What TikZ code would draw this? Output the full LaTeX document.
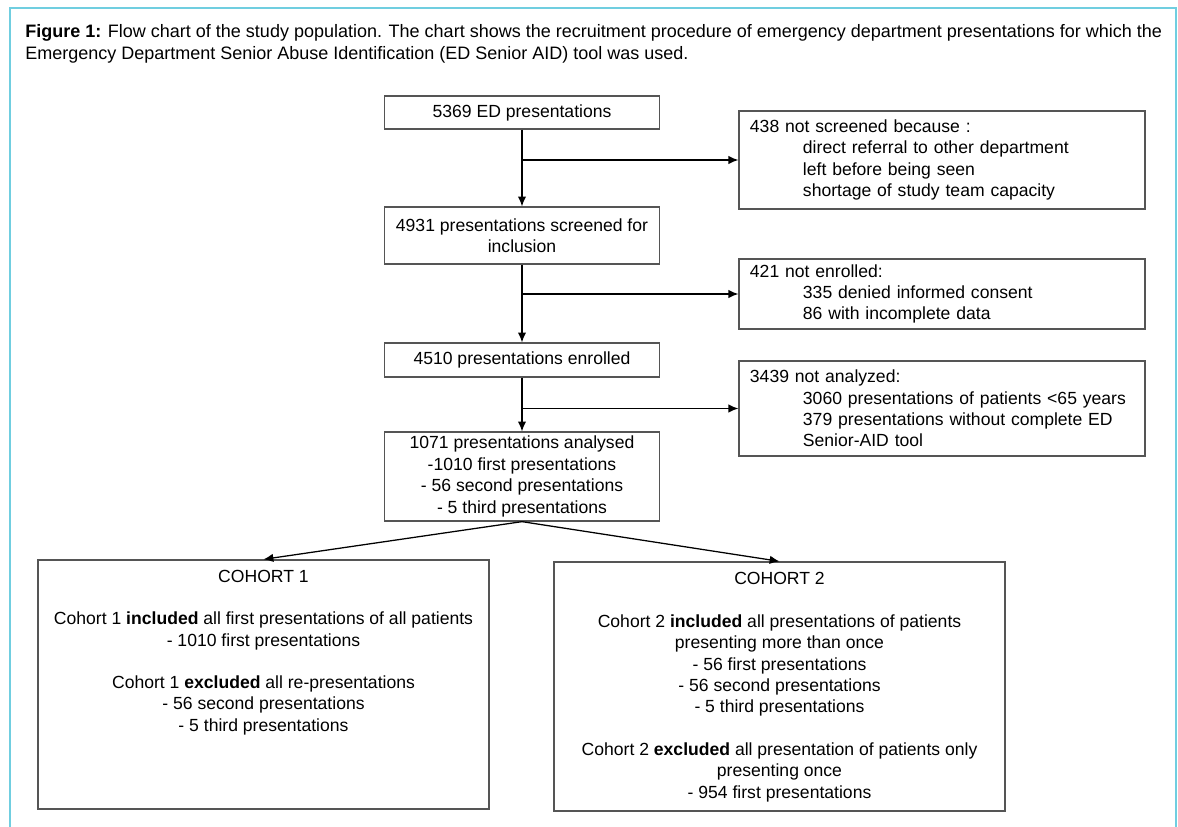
\documentclass[tikz,border=0pt]{standalone}
\usepackage{fontspec}
\setmainfont{Liberation Sans}
\usepackage{tikz}
\usetikzlibrary{arrows,arrows.meta,positioning,calc}
\definecolor{framecyan}{RGB}{112,206,224}
\definecolor{boxgray}{RGB}{85,85,85}

\begin{document}
\begin{tikzpicture}[
        x=0.025cm, y=-0.025cm,
        every node/.style={font=\fontsize{12.5}{15.2}\selectfont},
        mainbox/.style={draw=boxgray, line width=0.9pt, minimum width=6.875cm, align=center, inner ysep=1pt},
        sidebox/.style={draw=boxgray, line width=0.9pt, text width=9.6cm, inner xsep=0.275cm, align=left},
        cohortbox/.style={draw=boxgray, line width=0.9pt, minimum width=11.275cm, minimum height=6.225cm},
        flow/.style={line width=0.9pt, -{Latex[length=7pt,width=6pt]}}
    ]
        \useasboundingbox (0,0) rectangle (1178,827);

        % Frame and caption
        \draw[framecyan, line width=1.4pt] (10,827) -- (10,8) -- (1176,8) -- (1176,827);
        \node[anchor=north west, align=left, inner sep=0pt, font=\fontsize{12.8}{15.8}\selectfont] (caption) at (25,24) {
            \textbf{Figure 1:} Flow chart of the study population. The chart shows the recruitment procedure of emergency department presentations for which the\\
            Emergency Department Senior Abuse Identification (ED Senior AID) tool was used.
        };

        % Main column
        \node[mainbox, minimum height=0.825cm] (boxA) at (522,112.5) {5369 ED presentations};
        \node[mainbox, minimum height=1.425cm] (boxC) at (522,235.5) {4931 presentations screened for\\inclusion};
        \node[mainbox, minimum height=0.85cm] (boxE) at (522,360) {4510 presentations enrolled};
        \node[mainbox, minimum height=2.225cm] (boxG) at (522,476.5) {
            1071 presentations analysed\\
            -1010 first presentations\\
            - 56 second presentations\\
            - 5 third presentations
        };

        % Side boxes
        \node[sidebox, minimum height=2.45cm] (sideB) at (942,160) {
            438 not screened because :\\
            \hspace*{1.325cm}direct referral to other department\\
            \hspace*{1.325cm}left before being seen\\
            \hspace*{1.325cm}shortage of study team capacity
        };
        \node[sidebox, minimum height=1.75cm] (sideD) at (942,294) {
            421 not enrolled:\\
            \hspace*{1.325cm}335 denied informed consent\\
            \hspace*{1.325cm}86 with incomplete data
        };
        \node[sidebox, minimum height=2.375cm] (sideF) at (942,408.5) {
            3439 not analyzed:\\
            \hspace*{1.325cm}3060 presentations of patients <65 years\\
            \hspace*{1.325cm}379 presentations without complete ED\\
            \hspace*{1.325cm}Senior-AID tool
        };

        % Cohorts
        \node[cohortbox] (cohortA) at (263.5,684.5) {};
        \node[below=4pt of cohortA.north, align=center] (cohortAtext) {
            COHORT 1\\[15pt]
            Cohort 1 \textbf{included} all first presentations of all patients\\
            - 1010 first presentations\\[15pt]
            Cohort 1 \textbf{excluded} all re-presentations\\
            - 56 second presentations\\
            - 5 third presentations
        };
        \node[cohortbox] (cohortB) at (779.5,686.5) {};
        \node[below=4.5pt of cohortB.north, align=center] (cohortBtext) {
            COHORT 2\\[15pt]
            Cohort 2 \textbf{included} all presentations of patients\\
            presenting more than once\\
            - 56 first presentations\\
            - 56 second presentations\\
            - 5 third presentations\\[15pt]
            Cohort 2 \textbf{excluded} all presentation of patients only\\
            presenting once\\
            - 954 first presentations
        };

        % Connectors
        \path (boxA.south |- sideB.west) coordinate (jB);
        \path (boxC.south |- sideD.west) coordinate (jD);
        \path (boxE.south |- sideF.west) coordinate (jF);
        \draw[flow] (boxA.south) -- (boxC.north);
        \draw[flow] (jB) -- (sideB.west);
        \draw[flow] (boxC.south) -- (boxE.north);
        \draw[flow] (jD) -- (sideD.west);
        \draw[flow] (boxE.south) -- (boxG.north);
        \draw[flow] (jF) -- (sideF.west);
        \draw[flow] (boxG.south) -- (cohortA.north);
        \draw[flow] (boxG.south) -- (cohortB.north);
    \end{tikzpicture}
\end{document}
